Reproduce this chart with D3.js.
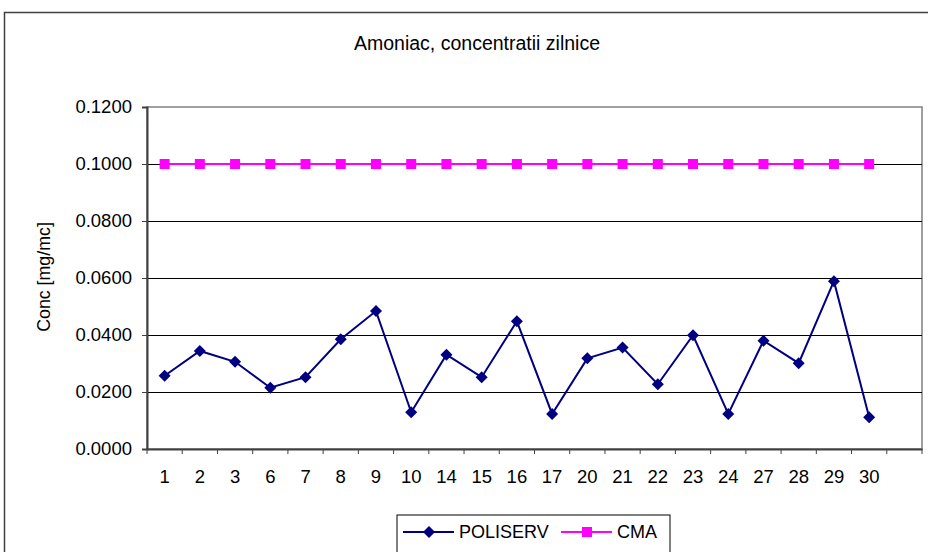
<!DOCTYPE html>
<html><head><meta charset="utf-8">
<script src="https://cdn.jsdelivr.net/npm/d3@7"></script>
<style>body{margin:0;background:#fff}svg{display:block;font-family:Arial,"Liberation Sans",sans-serif}</style>
</head><body><svg id="c" width="928" height="552"></svg>
<script>
const categories = ["1","2","3","6","7","8","9","10","14","15","16","17","20","21","22","23","24","27","28","29","30",""];
const poliserv = [0.0257,0.0344,0.0306,0.0215,0.0252,0.0385,0.0484,0.0129,0.0331,0.0252,0.0448,0.0123,0.0318,0.0356,0.0227,0.0399,0.0123,0.0380,0.0301,0.0589,0.0111,null];
const cma = [0.1,0.1,0.1,0.1,0.1,0.1,0.1,0.1,0.1,0.1,0.1,0.1,0.1,0.1,0.1,0.1,0.1,0.1,0.1,0.1,0.1,null];
const yTicks = [0,0.02,0.04,0.06,0.08,0.1,0.12];
const title = "Amoniac, concentratii zilnice";
const yTitle = "Conc [mg/mc]";

const svg = d3.select("#c");
const L = 147, R = 922, T = 107, B = 449;
const x = d3.scaleBand().domain(categories.map((d,i)=>i)).range([L,R]);
const y = d3.scaleLinear().domain([0,0.12]).range([B,T]);
const cx = i => x(i) + x.bandwidth()/2;
const FONT = "Arial,'Liberation Sans',sans-serif";

// outer border
svg.append("rect").attr("x",4.5).attr("y",12.5).attr("width",940).attr("height",560)
  .attr("fill","none").attr("stroke","#404040").attr("stroke-width",1.5);

svg.append("text").attr("x",477).attr("y",50).attr("text-anchor","middle")
  .attr("font-size",19.5).attr("fill","#000").text(title);

// plot border
svg.append("rect").attr("x",L).attr("y",T).attr("width",R-L).attr("height",B-T)
  .attr("fill","none").attr("stroke","#808080").attr("stroke-width",1.5);

// gridlines
svg.append("g").selectAll("line").data(yTicks.filter(d=>d>0 && d<0.12)).join("line")
  .attr("x1",L).attr("x2",R).attr("y1",d=>Math.round(y(d))+0.5).attr("y2",d=>Math.round(y(d))+0.5)
  .attr("stroke","#000").attr("stroke-width",1.2);

// y axis
const yAxis = d3.axisLeft(y).tickValues(yTicks).tickFormat(d3.format(".4f")).tickSize(5).tickPadding(10);
const gy = svg.append("g").attr("transform",`translate(${L},0)`).call(yAxis);
gy.select(".domain").attr("stroke","#404040").attr("stroke-width",2);
gy.selectAll(".tick line").attr("stroke","#404040");
gy.selectAll("text").attr("font-size",18.5).attr("fill","#000").attr("font-family",FONT);

// x axis
const xAxis = d3.axisBottom(x).tickFormat(i=>categories[i]).tickSize(0).tickPadding(21);
const gx = svg.append("g").attr("transform",`translate(0,${B})`).call(xAxis);
gx.select(".domain").attr("stroke","#404040").attr("stroke-width",2);
gx.selectAll("text").attr("font-size",18.5).attr("fill","#000").attr("font-family",FONT);
// tick marks at band boundaries
const bounds = categories.map((d,i)=>x(i)).concat([R]);
gx.append("g").selectAll("line").data(bounds).join("line")
  .attr("x1",d=>d).attr("x2",d=>d).attr("y1",0).attr("y2",5).attr("stroke","#404040").attr("stroke-width",1);

// y title
svg.append("text").attr("transform",`translate(50,${(T+B)/2-1}) rotate(-90)`).attr("text-anchor","middle")
  .attr("font-size",17.8).attr("fill","#000").text(yTitle);

const line = d3.line().defined(d=>d.v!=null).x(d=>cx(d.i)).y(d=>y(d.v));
const cmaD = cma.map((v,i)=>({i,v}));
const polD = poliserv.map((v,i)=>({i,v}));

svg.append("path").datum(cmaD).attr("d",line).attr("fill","none").attr("stroke","#FF00FF").attr("stroke-width",2);
svg.append("g").selectAll("rect").data(cmaD.filter(d=>d.v!=null)).join("rect")
  .attr("x",d=>cx(d.i)-5).attr("y",d=>y(d.v)-5).attr("width",10).attr("height",10).attr("fill","#FF00FF");

svg.append("path").datum(polD).attr("d",line).attr("fill","none").attr("stroke","#000080").attr("stroke-width",2);
const diamond = "M0,-6L6,0L0,6L-6,0Z";
svg.append("g").selectAll("path").data(polD.filter(d=>d.v!=null)).join("path")
  .attr("transform",d=>`translate(${cx(d.i)},${y(d.v)})`).attr("d",diamond).attr("fill","#000080");

// legend
const lg = svg.append("g");
lg.append("rect").attr("x",397).attr("y",515).attr("width",273).attr("height",40)
  .attr("fill","#fff").attr("stroke","#000").attr("stroke-width",1);
lg.append("line").attr("x1",403).attr("x2",454).attr("y1",532).attr("y2",532).attr("stroke","#000080").attr("stroke-width",2);
lg.append("path").attr("transform","translate(429,532)").attr("d",diamond).attr("fill","#000080");
lg.append("text").attr("x",459).attr("y",538).attr("font-size",18).text("POLISERV");
lg.append("line").attr("x1",561).attr("x2",612).attr("y1",532).attr("y2",532).attr("stroke","#FF00FF").attr("stroke-width",2);
lg.append("rect").attr("x",582).attr("y",527).attr("width",10).attr("height",10).attr("fill","#FF00FF");
lg.append("text").attr("x",617).attr("y",538).attr("font-size",18).text("CMA");
</script></body></html>
